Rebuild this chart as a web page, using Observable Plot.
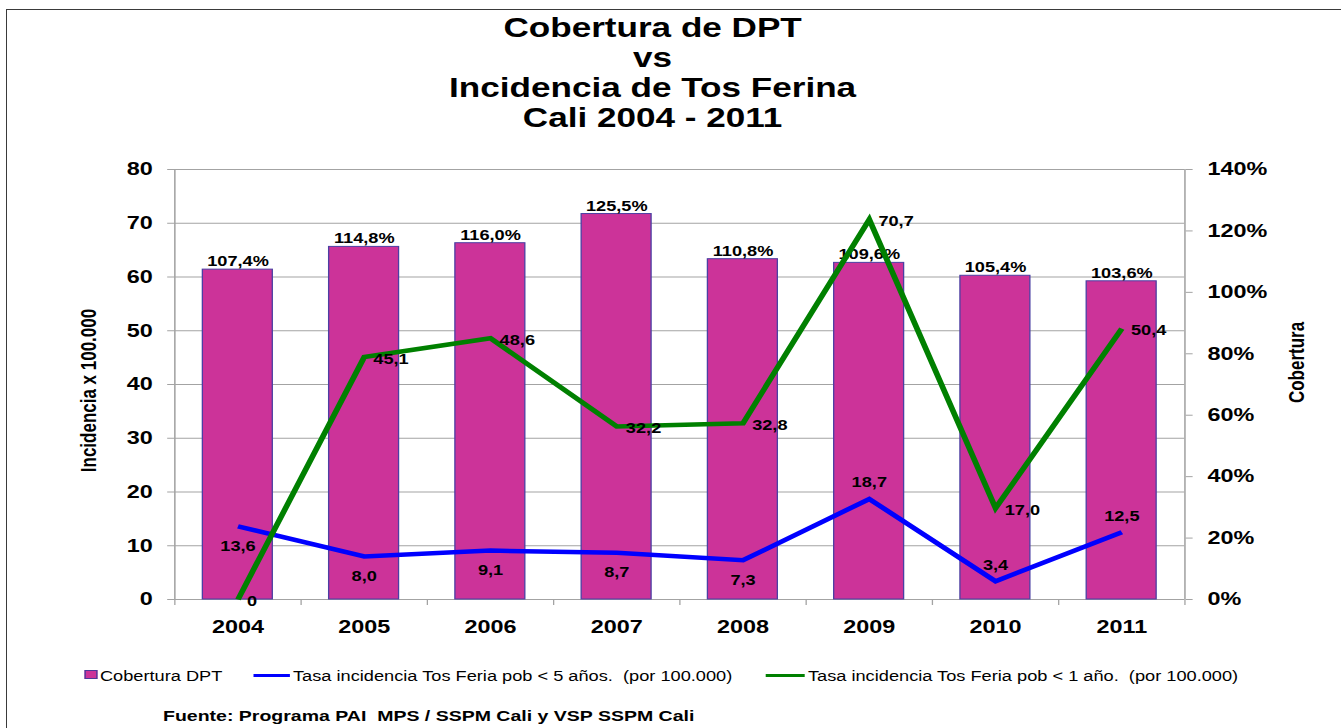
<!DOCTYPE html>
<html>
<head>
<meta charset="utf-8">
<script src="https://cdn.jsdelivr.net/npm/d3@7"></script>
<script src="https://cdn.jsdelivr.net/npm/@observablehq/plot@0.6"></script>
<style>
  html, body { margin: 0; padding: 0; background: #fff; }
  body { width: 1341px; height: 728px; overflow: hidden; position: relative; font-family: "Liberation Sans", Arial, sans-serif; color: #000; }
  #frame { position: absolute; left: 6px; top: 9px; width: 1400px; height: 800px; border: 1.5px solid #3a3a3a; box-sizing: border-box; }
  #stretch { position: absolute; left: 0; top: 0; width: 1032px; height: 728px; transform: scaleX(1.3); transform-origin: 0 0; }
  #title { position: absolute; left: 0; width: 1004px; top: 13px; text-align: center; font-weight: bold; font-size: 27px; line-height: 30px; }
  #chart { position: absolute; left: 0; top: 150px; }
  .leg { position: absolute; top: 668px; font-size: 14px; line-height: 16px; white-space: pre; }
  .sw { position: absolute; }
  #source { position: absolute; left: 125.4px; top: 707px; font-size: 15px; line-height: 17px; font-weight: bold; white-space: pre; }
</style>
</head>
<body>
<div id="frame"></div>
<div id="stretch">
  <div id="title">Cobertura de DPT<br>vs<br>Incidencia de Tos Ferina<br>Cali 2004 - 2011</div>
  <div id="chart"></div>
  <div class="sw" style="left:64.6px; top:670px; width:10px; height:9px; background:#cc3399; border:1px solid #4a3a9a; box-sizing:border-box;"></div>
  <div class="leg" id="leg1" style="left:76.9px;"></div>
  <div class="sw" style="left:195.4px; top:674px; width:27.6px; height:3px; background:#0000ff;"></div>
  <div class="leg" id="leg2" style="left:225.4px;"></div>
  <div class="sw" style="left:588.5px; top:674px; width:30.5px; height:3px; background:#008000;"></div>
  <div class="leg" id="leg3" style="left:621.5px;"></div>
  <div id="source"></div>
</div>
<script>
// ---- data ----
const years = [2004, 2005, 2006, 2007, 2008, 2009, 2010, 2011];
const cobertura = [107.4, 114.8, 116.0, 125.5, 110.8, 109.6, 105.4, 103.6];      // % (right axis)
const tasaMenor5 = [13.6, 8.0, 9.1, 8.7, 7.3, 18.7, 3.4, 12.5];                 // x 100.000
const tasaMenor1 = [0, 45.1, 48.6, 32.2, 32.8, 70.7, 17.0, 50.4];               // x 100.000
const leftTicks = [0, 10, 20, 30, 40, 50, 60, 70, 80];
const rightTicks = [0, 20, 40, 60, 80, 100, 120, 140];
const seriesNames = ["Cobertura DPT",
  "Tasa incidencia Tos Feria pob < 5 años.  (por 100.000)",
  "Tasa incidencia Tos Feria pob < 1 año.  (por 100.000)"];
const yLeftTitle = "Incidencia x 100.000";
const yRightTitle = "Cobertura";
const sourceText = "Fuente: Programa PAI  MPS / SSPM Cali y VSP SSPM Cali";

document.getElementById("leg1").textContent = seriesNames[0];
document.getElementById("leg2").textContent = seriesNames[1];
document.getElementById("leg3").textContent = seriesNames[2];
document.getElementById("source").textContent = sourceText;

const RATIO = leftTicks[leftTicks.length - 1] / rightTicks[rightTicks.length - 1];
const data = years.map((year, i) => ({year, cob: cobertura[i], t5: tasaMenor5[i], t1: tasaMenor1[i]}));
const bounds = years.map(y => y - 0.5).concat([years[years.length - 1] + 0.5]);
const fmt = v => v === 0 ? "0" : v.toFixed(1).replace(".", ",");
const HALF = 0.277;
const GRAY = "#a3a3a3";

const chart = Plot.plot({
  width: 1032,
  height: 495,
  marginLeft: 134,
  marginRight: 121,
  marginTop: 19,
  marginBottom: 46,
  style: {fontFamily: "'Liberation Sans', Arial, sans-serif", fontWeight: "bold", fontSize: "18px", color: "black", background: "transparent", overflow: "visible"},
  x: {type: "linear", domain: [bounds[0], bounds[bounds.length - 1]]},
  y: {domain: [leftTicks[0], leftTicks[leftTicks.length - 1]]},
  marks: [
    Plot.gridY(leftTicks.slice(1), {stroke: GRAY, strokeOpacity: 1, strokeWidth: 1.2}),
    Plot.ruleY([0], {stroke: GRAY, strokeWidth: 1.2}),
    Plot.ruleX([bounds[0], bounds[bounds.length - 1]], {stroke: GRAY, strokeWidth: 1.2}),
    Plot.rect(data, {x1: d => d.year - HALF, x2: d => d.year + HALF, y1: 0, y2: d => d.cob * RATIO,
      fill: "#cc3399", stroke: "#4b3fa3", strokeWidth: 1}),
    Plot.text(data, {x: "year", y: d => d.cob * RATIO, text: d => fmt(d.cob) + "%", dy: -8, fontSize: 14, lineAnchor: "middle"}),
    Plot.line(data, {x: "year", y: "t5", stroke: "#0000ff", strokeWidth: 4.5, strokeLinejoin: "miter", strokeLinecap: "butt", strokeMiterlimit: 6}),
    Plot.line(data, {x: "year", y: "t1", stroke: "#008000", strokeWidth: 4.5, strokeLinejoin: "miter", strokeLinecap: "butt", strokeMiterlimit: 6}),
    Plot.text(data, {filter: (d, i) => i < 5, x: "year", y: "t5", text: d => fmt(d.t5), dy: 20, fontSize: 14, lineAnchor: "middle"}),
    Plot.text(data, {filter: (d, i) => i >= 5, x: "year", y: "t5", text: d => fmt(d.t5), dy: -16, fontSize: 14, lineAnchor: "middle"}),
    Plot.text(data, {x: "year", y: "t1", text: d => fmt(d.t1), dx: 7, dy: 2, textAnchor: "start", fontSize: 14, lineAnchor: "middle"}),
    Plot.axisY(leftTicks, {anchor: "left", tickSize: 5.4, tickPadding: 11.6, stroke: GRAY, fill: "black", label: null}),
    Plot.axisY(rightTicks.map(v => v * RATIO), {anchor: "right", tickSize: 5.4, tickPadding: 12, stroke: GRAY, fill: "black",
      tickFormat: v => Math.round(v / RATIO) + "%", label: null}),
    Plot.axisX(years, {tickSize: 0, tickPadding: 21, tickFormat: d => String(d), fill: "black", label: null}),
    Plot.axisX(bounds, {tickSize: 6, fill: "none", stroke: GRAY, label: null}),
    Plot.text([yLeftTitle], {frameAnchor: "left", text: d => d, rotate: -90, dx: -65.8, dy: 6, fontSize: 17, lineAnchor: "middle", textAnchor: "middle"}),
    Plot.text([yRightTitle], {frameAnchor: "right", text: d => d, rotate: -90, dx: 86.2, dy: -22, fontSize: 17, lineAnchor: "middle", textAnchor: "middle"})
  ]
});
document.getElementById("chart").appendChild(chart);
</script>
</body>
</html>
